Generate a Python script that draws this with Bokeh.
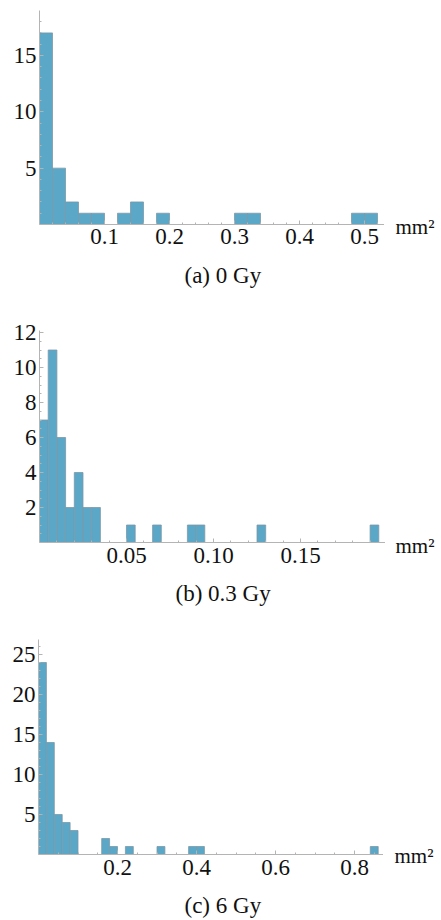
import numpy as np
from bokeh.plotting import figure
from bokeh.models import FixedTicker, PrintfTickFormatter, Range1d, Title
from bokeh.core.properties import value
from bokeh.layouts import column, row
from bokeh.embed import file_html
from bokeh.resources import INLINE

# ---------------- data ----------------
# (a) 0 Gy : histogram, bins of 0.02 mm^2 starting at 0
a_bin_start = 0.0
a_bin_width = 0.02
a_counts = [17, 5, 2, 1, 1, 0, 1, 2, 0, 1, 0, 0, 0, 0, 0, 1, 1, 0, 0, 0, 0, 0, 0, 0, 1, 1]
a_xticks = [0.1, 0.2, 0.3, 0.4, 0.5]
a_yticks = [5, 10, 15]
a_caption = "(a) 0 Gy"

# (b) 0.3 Gy : bins of 0.005 mm^2 starting at 0
b_bin_start = 0.0
b_bin_width = 0.005
b_counts = [7, 11, 6, 2, 4, 2, 2, 0, 0, 0, 1, 0, 0, 1, 0, 0, 0, 1, 1,
            0, 0, 0, 0, 0, 0, 1, 0, 0, 0, 0, 0, 0, 0, 0, 0, 0, 0, 0, 1]
b_xticks = [0.05, 0.10, 0.15]
b_yticks = [2, 4, 6, 8, 10, 12]
b_caption = "(b) 0.3 Gy"

# (c) 6 Gy : bins of 0.02 mm^2 starting at 0
c_bin_start = 0.0
c_bin_width = 0.02
c_counts = [24, 14, 5, 4, 3, 0, 0, 0, 2, 1, 0, 1, 0, 0, 0, 1, 0, 0, 0, 1, 1,
            0, 0, 0, 0, 0, 0, 0, 0, 0, 0, 0, 0, 0, 0, 0, 0, 0, 0, 0, 0, 0, 1]
c_xticks = [0.2, 0.4, 0.6, 0.8]
c_yticks = [5, 10, 15, 20, 25]
c_caption = "(c) 6 Gy"

unit_label = "mm²"

# ---------------- style ----------------
BAR = "#5aa7c7"
EDGE = "#7d98a6"
AXIS = "#b4b4b4"
TXT = "#111111"
FONT = "Liberation Serif, DejaVu Serif, serif"
PAGE_W = 441


def caption_title(caption, g):
    return Title(text=caption, align="left", offset=g["cap_off"], vertical_align="top",
                 text_font=FONT, text_font_size="23px", text_font_style="normal",
                 text_color=TXT, standoff=g["cap_stand"])


def make_panel(counts, start, width, xticks, xminor, yticks, yminor, fmt, caption, g):
    bl, fr, bt, bb = g["frame"]      # left border, frame right x, top border, bottom border
    fig_h = g["fig_h"]
    xs, ys = g["xs"], g["ys"]
    frame_w = fr - bl
    frame_h = fig_h - bt - bb

    p = figure(width=fr, height=fig_h,
               x_range=Range1d(0, frame_w / xs), y_range=Range1d(0, frame_h / ys),
               output_backend="svg", toolbar_location=None, frame_align=False,
               min_border_left=bl, min_border_right=0,
               min_border_top=bt, min_border_bottom=bb)
    p.outline_line_color = None
    p.xgrid.visible = False
    p.ygrid.visible = False
    p.background_fill_color = "white"
    p.border_fill_color = "white"

    cnt = np.array(counts, dtype=float)
    lefts = start + width * np.arange(len(cnt))
    m = cnt > 0
    p.quad(left=lefts[m], right=lefts[m] + width, bottom=0, top=cnt[m],
           fill_color=BAR, line_color=EDGE, line_width=0.8)

    for ax in (p.xaxis[0], p.yaxis[0]):
        ax.axis_line_color = AXIS
        ax.axis_line_width = 1
        ax.major_tick_line_color = AXIS
        ax.minor_tick_line_color = AXIS
        ax.major_tick_in = 4
        ax.major_tick_out = 0
        ax.minor_tick_in = 2
        ax.minor_tick_out = 0
        ax.major_label_text_font = FONT
        ax.major_label_text_font_size = "23px"
        ax.major_label_text_color = TXT

    p.xaxis.ticker = FixedTicker(ticks=xticks, minor_ticks=xminor)
    p.xaxis.formatter = PrintfTickFormatter(format=fmt)
    p.xaxis.major_label_standoff = g["xstand"]
    p.yaxis.ticker = FixedTicker(ticks=yticks, minor_ticks=yminor)
    p.yaxis.major_label_standoff = 3
    p.yaxis.bounds = (-g["yover"], g["ytop"])

    if g["cap_below"]:
        p.add_layout(caption_title(caption, g), "below")

    # side strip carrying the unit label, level with the horizontal axis
    sw = PAGE_W - fr
    s = figure(width=sw, height=fig_h, x_range=Range1d(0, sw), y_range=Range1d(0, fig_h),
               output_backend="svg", toolbar_location=None, frame_align=False,
               x_axis_location=None, y_axis_location=None, min_border=0)
    s.outline_line_color = None
    s.xgrid.visible = False
    s.ygrid.visible = False
    s.text(x=[g["unit_dx"]], y=[bb - g["unit_dy"]], text=[unit_label],
           text_font=value(FONT), text_font_size="21px", text_color=TXT,
           text_align="left", text_baseline="alphabetic")
    return row(p, s, spacing=0)


ga = dict(fig_h=307, frame=(39, 384, 4, 83), xs=650.0, ys=11.27, xstand=4,
          yover=0.31, ytop=18.99, unit_dx=11, unit_dy=2, cap_off=145, cap_stand=32,
          cap_below=True)
gb = dict(fig_h=316, frame=(39, 385, 17, 81), xs=1740.0, ys=17.5, xstand=5,
          yover=0.25, ytop=12.13, unit_dx=10, unit_dy=3, cap_off=136, cap_stand=30,
          cap_below=True)
gc = dict(fig_h=269, frame=(38, 383, 11, 38), xs=395.0, ys=8.0, xstand=5,
          yover=0.37, ytop=26.84, unit_dx=11, unit_dy=1, cap_off=146, cap_stand=2,
          cap_below=False)

ra = make_panel(a_counts, a_bin_start, a_bin_width, a_xticks,
                [round(v, 3) for v in np.arange(0.02, 0.53, 0.02)],
                a_yticks, list(range(1, 19)), "%.1f", a_caption, ga)
rb = make_panel(b_counts, b_bin_start, b_bin_width, b_xticks,
                [round(v, 3) for v in np.arange(0.01, 0.2, 0.01)],
                b_yticks, [v / 2 for v in range(1, 25)], "%.2f", b_caption, gb)
rc = make_panel(c_counts, c_bin_start, c_bin_width, c_xticks,
                [round(v, 3) for v in np.arange(0.05, 0.87, 0.05)],
                c_yticks, list(range(1, 27)), "%.1f", c_caption, gc)

# caption strip for panel (c), kept within the window height
cap_c = figure(width=PAGE_W, height=28, x_range=Range1d(0, 1), y_range=Range1d(0, 1),
               output_backend="svg", toolbar_location=None, frame_align=False,
               x_axis_location=None, y_axis_location=None,
               min_border_left=38, min_border_right=0, min_border_top=0, min_border_bottom=0)
cap_c.outline_line_color = None
cap_c.xgrid.visible = False
cap_c.ygrid.visible = False
cap_c.add_layout(caption_title(c_caption, gc), "above")

layout = column(ra, rb, rc, cap_c, spacing=0)
open("out.html", "w").write(file_html(layout, INLINE))
